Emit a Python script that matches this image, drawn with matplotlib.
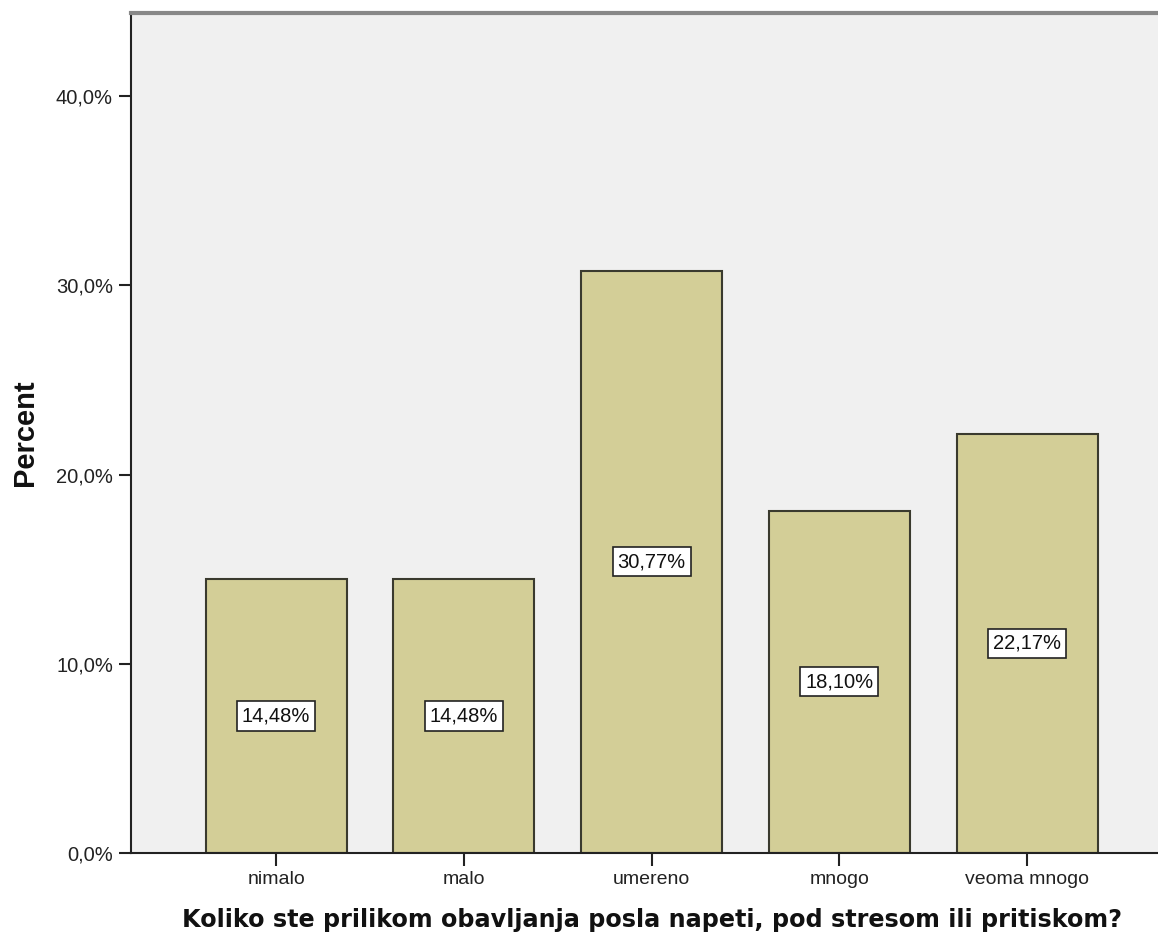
import matplotlib
matplotlib.use("Agg")
import matplotlib.pyplot as plt

# ---------- data ----------
categories = ["nimalo", "malo", "umereno", "mnogo", "veoma mnogo"]
percents = [14.48, 14.48, 30.77, 18.10, 22.17]
yticks = [0, 10, 20, 30, 40]
ytick_labels = ["0,0%", "10,0%", "20,0%", "30,0%", "40,0%"]

plt.rcParams["font.family"] = ["Liberation Sans", "DejaVu Sans"]

fig = plt.figure(figsize=(11.58, 9.4), dpi=100)
ax = fig.add_axes([0.1131, 0.0926, 0.8869, 0.8936])
ax.set_facecolor("#F0F0F0")

x = list(range(len(categories)))
ax.bar(x, percents, width=0.75, color="#D3CE97", edgecolor="#3A3A2E",
       linewidth=1.5, zorder=2)

# value labels in white boxes at mid-height
for xi, v in zip(x, percents):
    ax.text(xi, v / 2, f"{v:.2f}%".replace(".", ","), ha="center", va="center",
            fontsize=14.5, color="#111111", zorder=3,
            bbox=dict(boxstyle="square,pad=0.25", facecolor="white",
                      edgecolor="#222222", linewidth=1.2))

ax.set_xlim(-0.773, 4.697)
ax.set_ylim(0, 44.4)
ax.set_xticks(x)
ax.set_xticklabels(categories, fontsize=14)
ax.set_yticks(yticks)
ax.set_yticklabels(ytick_labels, fontsize=14.5)
ax.tick_params(axis="both", direction="out", length=9, width=1.5,
               color="#222222", labelcolor="#222222", pad=4)

ax.spines["left"].set_color("#222222")
ax.spines["left"].set_linewidth(1.5)
ax.spines["bottom"].set_color("#222222")
ax.spines["bottom"].set_linewidth(1.5)
ax.spines["top"].set_color("#888888")
ax.spines["top"].set_linewidth(3)
ax.spines["right"].set_visible(False)

ax.set_xlabel("Koliko ste prilikom obavljanja posla napeti, pod stresom ili pritiskom?",
              fontsize=17.2, fontweight="bold", color="#111111",
              family="DejaVu Sans")
ax.xaxis.set_label_coords(0.507, -0.066)
ax.set_ylabel("Percent", fontsize=21, fontweight="bold", color="#111111")
ax.yaxis.set_label_coords(-0.09, 0.5)

fig.savefig("out.png", dpi=100)
plt.close(fig)
